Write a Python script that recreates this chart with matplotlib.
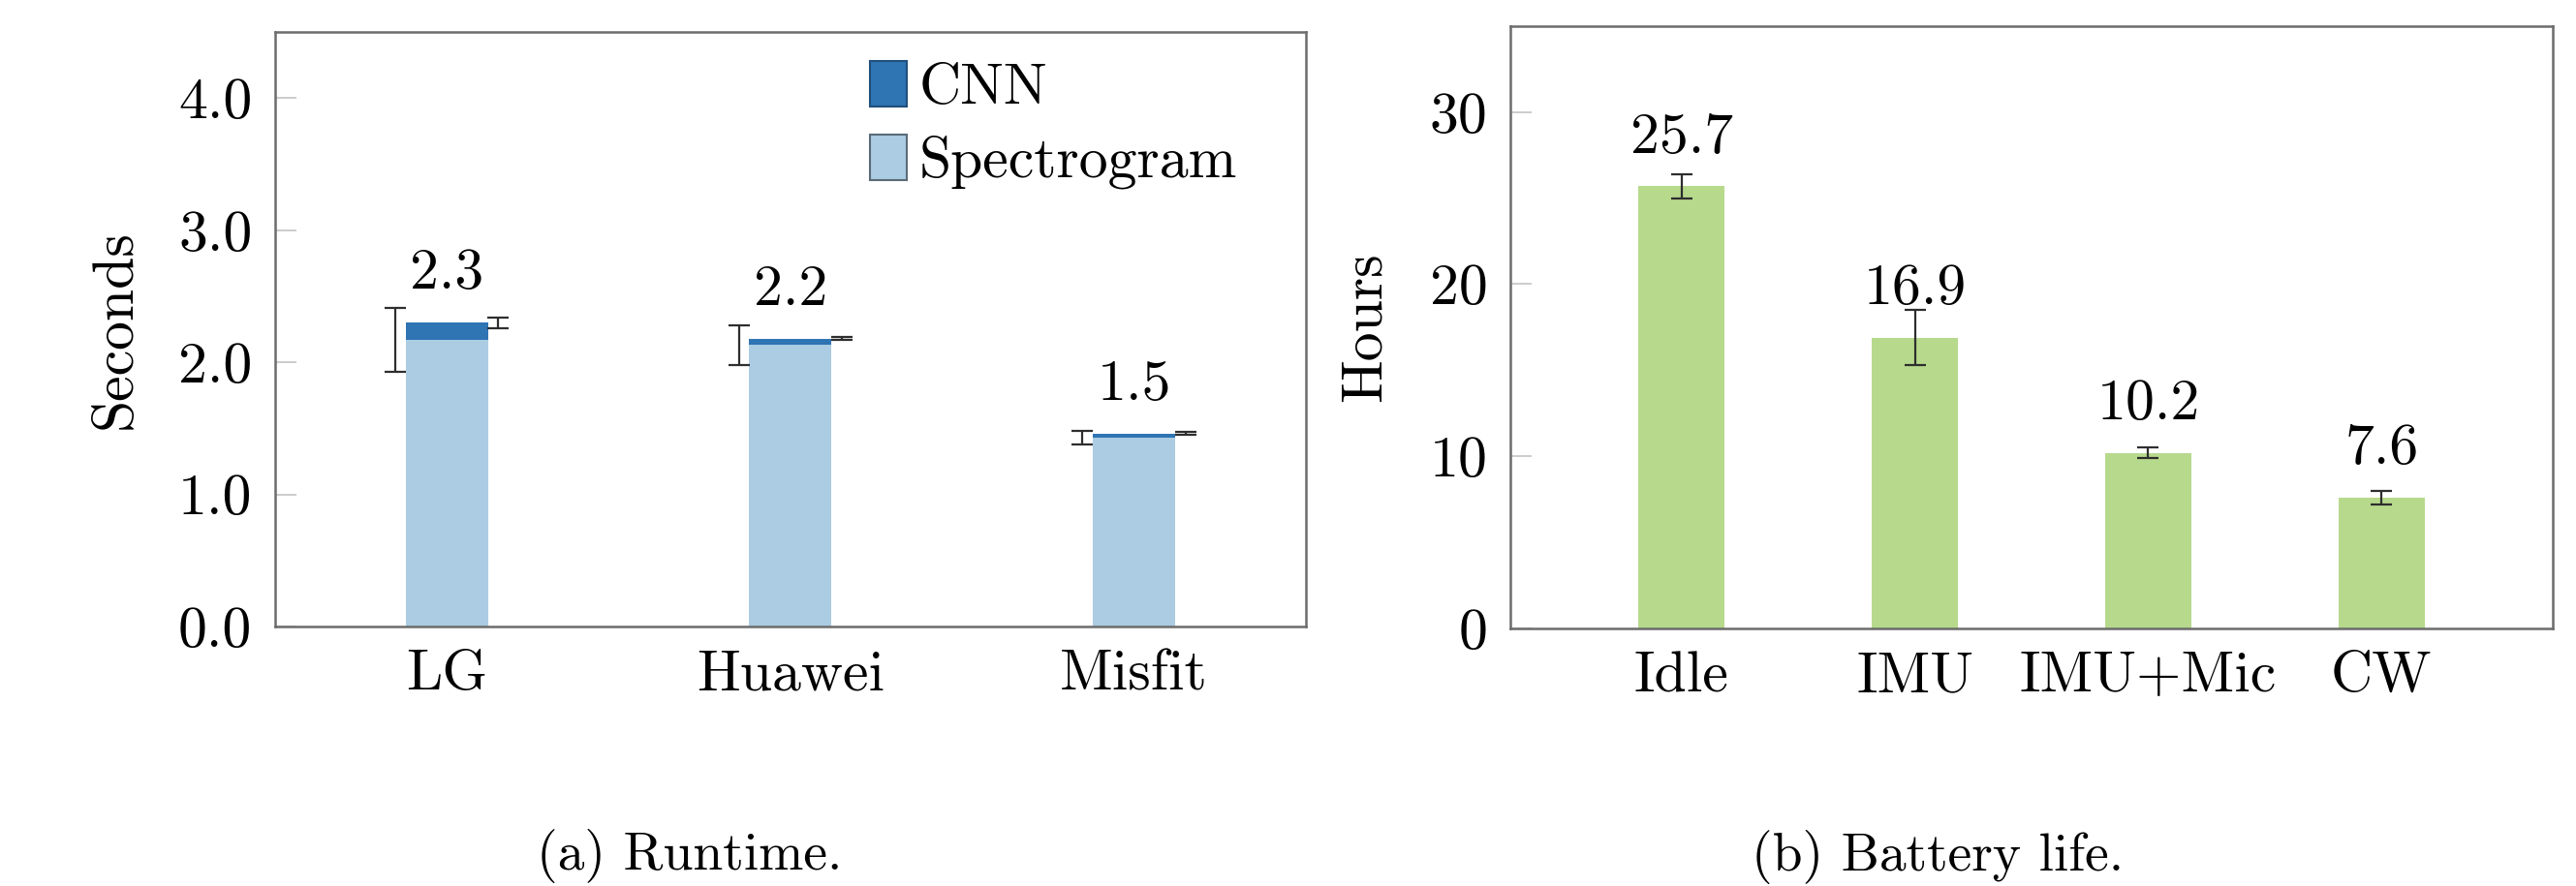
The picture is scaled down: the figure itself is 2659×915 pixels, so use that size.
import matplotlib
matplotlib.use("Agg")
import matplotlib.pyplot as plt
from matplotlib.patches import Patch
import numpy as np

plt.rcParams["font.family"] = ["cmr10", "DejaVu Serif"]
plt.rcParams["axes.formatter.use_mathtext"] = True
plt.rcParams["mathtext.fontset"] = "cm"

# (a) runtime per device: spectrogram + CNN stacked, seconds
devices = ["LG", "Huawei", "Misfit"]
spectrogram_s = [2.17, 2.13, 1.43]
spectrogram_err = [0.24, 0.15, 0.05]
cnn_s = [0.13, 0.05, 0.03]
cnn_err = [0.04, 0.01, 0.01]
runtime_ticks = [0.0, 1.0, 2.0, 3.0, 4.0]

# (b) battery life per sensing mode, hours
modes = ["Idle", "IMU", "IMU+Mic", "CW"]
battery_h = [25.7, 16.9, 10.2, 7.6]
battery_err = [0.7, 1.6, 0.3, 0.4]
battery_ticks = [0, 10, 20, 30]

DARK = "#2f74b3"
LIGHT = "#abcce2"
GREEN = "#b6d98c"
SPINE = "#6c6c6c"
ERR = "#2e2e2e"
FS = 43

fig = plt.figure(figsize=(26.59, 9.15), dpi=100)
ax1 = fig.add_axes([0.1068, 0.2929, 0.4001, 0.6710])
ax2 = fig.add_axes([0.5863, 0.2911, 0.4047, 0.6793])


def style(ax):
    for sp in ax.spines.values():
        sp.set_color(SPINE)
        sp.set_linewidth(1.8)
    ax.tick_params(axis="y", direction="in", length=16, width=1.2,
                   color="#c4c4c4", pad=17, labelsize=FS)
    ax.tick_params(axis="x", length=0, pad=17, labelsize=FS)


# ---- runtime ----
x = np.arange(len(devices))
totals = [s + c for s, c in zip(spectrogram_s, cnn_s)]
ax1.bar(x, spectrogram_s, width=0.24, color=LIGHT, zorder=2)
ax1.bar(x, cnn_s, bottom=spectrogram_s, width=0.24, color=DARK, zorder=2)
ax1.errorbar(x - 0.15, spectrogram_s, yerr=spectrogram_err, fmt="none",
             ecolor=ERR, elinewidth=1.6, capsize=8, capthick=1.6, zorder=3)
ax1.errorbar(x + 0.15, totals, yerr=cnn_err, fmt="none",
             ecolor=ERR, elinewidth=1.6, capsize=8, capthick=1.6, zorder=3)
for xi, t in zip(x, totals):
    ax1.annotate(f"{t:.1f}", (xi, t), xytext=(0, 25), textcoords="offset points",
                 ha="center", va="baseline", fontsize=FS)
ax1.set_xlim(-0.5, 2.5)
ax1.set_ylim(0, 4.5)
ax1.set_xticks(x)
ax1.set_xticklabels(devices)
ax1.set_yticks(runtime_ticks)
ax1.set_yticklabels([f"{v:.1f}" for v in runtime_ticks])
ax1.set_ylabel("Seconds", fontsize=FS, va="center")
ax1.yaxis.set_label_coords(-0.154, 0.5)
style(ax1)

handles = [
    Patch(facecolor=DARK, edgecolor="#1f4f7d", linewidth=1.5, label="CNN"),
    Patch(facecolor=LIGHT, edgecolor="#5b6b78", linewidth=1.5, label="Spectrogram"),
]
ax1.legend(handles=handles, loc="upper left", bbox_to_anchor=(0.577, 0.952),
           frameon=False, fontsize=FS, borderpad=0, borderaxespad=0,
           handlelength=0.64, handleheight=0.84, handletextpad=0.21,
           labelspacing=0.33)

# ---- battery ----
xb = np.arange(len(modes))
ax2.bar(xb, battery_h, width=0.37, color=GREEN, zorder=2)
ax2.errorbar(xb, battery_h, yerr=battery_err, fmt="none", ecolor=ERR,
             elinewidth=1.6, capsize=8, capthick=1.6, zorder=3)
for xi, v in zip(xb, battery_h):
    ax2.annotate(f"{v:.1f}", (xi, v), xytext=(0, 25), textcoords="offset points",
                 ha="center", va="baseline", fontsize=FS)
ax2.set_xlim(-0.734, 3.734)
ax2.set_ylim(0, 35)
ax2.set_xticks(xb)
ax2.set_xticklabels(modes)
ax2.set_yticks(battery_ticks)
ax2.set_yticklabels([str(v) for v in battery_ticks])
ax2.set_ylabel("Hours", fontsize=FS, va="center")
ax2.yaxis.set_label_coords(-0.1385, 0.5)
style(ax2)

# sub-figure captions
fig.text(712 / 2659, 1 - 898 / 915, "(a) Runtime.", ha="center", va="baseline", fontsize=40)
fig.text(2000 / 2659, 1 - 899 / 915, "(b) Battery life.", ha="center", va="baseline", fontsize=40)

fig.savefig("out.png", dpi=100)
